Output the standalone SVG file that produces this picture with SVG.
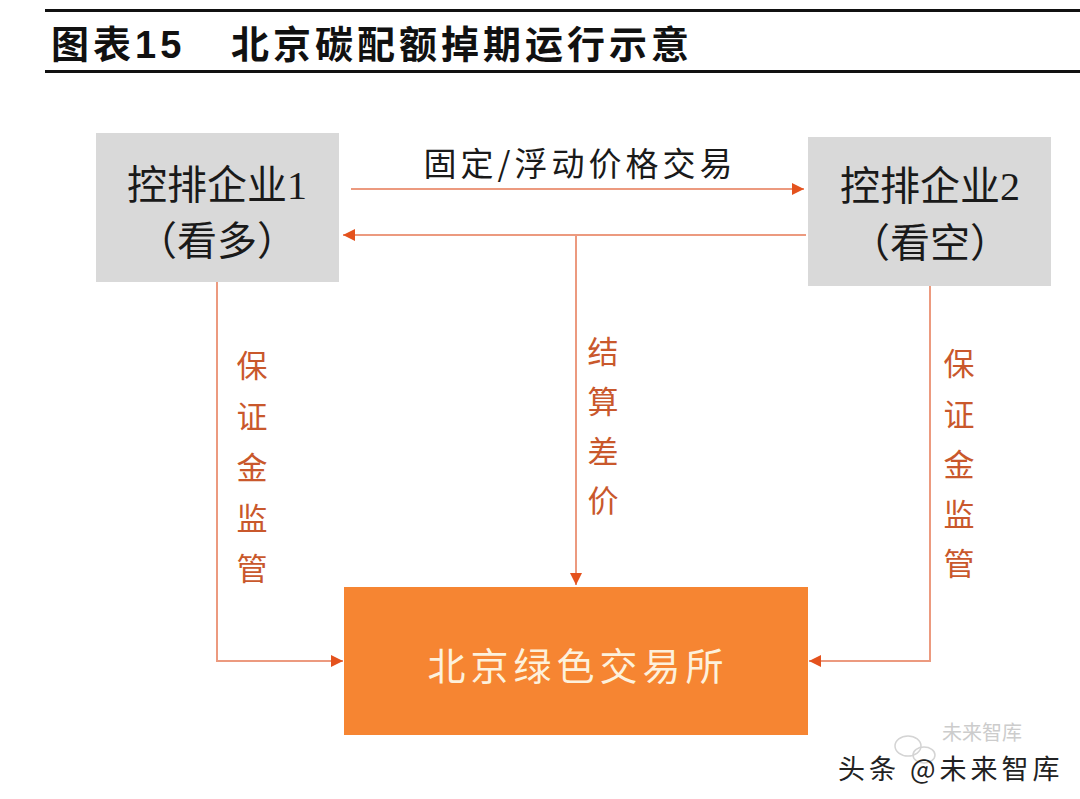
<svg xmlns="http://www.w3.org/2000/svg" width="1080" height="799" viewBox="0 0 1080 799">
<defs>
<style>
.cjk{font-family:"Noto Sans CJK SC","Liberation Sans",sans-serif;}
.title{font-family:"Liberation Sans","Noto Sans CJK SC",sans-serif;font-weight:bold;font-size:38px;fill:#111;dominant-baseline:central;}
.node-txt{font-family:"Liberation Serif","Noto Sans CJK SC",serif;font-size:40px;fill:#1a1a1a;text-anchor:middle;dominant-baseline:central;}
.vlabel{font-family:"Noto Sans CJK SC",sans-serif;font-size:31px;fill:#c9582c;text-anchor:middle;dominant-baseline:central;}
.conn{fill:none;stroke:#ec9a7f;stroke-width:2;}
</style>
<marker id="ah" viewBox="0 0 12 12" refX="12" refY="6" markerWidth="12" markerHeight="12" markerUnits="userSpaceOnUse" orient="auto">
<path d="M0,0 L12,6 L0,12 Z" fill="#e4521d"/>
</marker>
</defs>
<rect width="1080" height="799" fill="#ffffff"/>

<g id="title">
<rect x="45" y="9" width="1035" height="3" fill="#111"/>
<rect x="45" y="70" width="1035" height="3" fill="#111"/>
<text class="title" x="51" y="45" letter-spacing="4">图表15</text>
<text class="title" x="231" y="45" letter-spacing="4">北京碳配额掉期运行示意</text>
</g>

<g id="connectors">
<line class="conn" x1="351" y1="189" x2="804" y2="189" marker-end="url(#ah)"/>
<line class="conn" x1="806" y1="235" x2="343" y2="235" marker-end="url(#ah)"/>
<line class="conn" x1="576" y1="235" x2="576" y2="585" marker-end="url(#ah)"/>
<polyline class="conn" points="217,282 217,661 343,661" marker-end="url(#ah)"/>
<polyline class="conn" points="930,286 930,661 809,661" marker-end="url(#ah)"/>
<text class="cjk" x="580" y="162" font-size="33" fill="#1a1a1a" text-anchor="middle" dominant-baseline="central" letter-spacing="4">固定/浮动价格交易</text>
<g id="label-left">
<text class="vlabel" x="252" y="363">保</text>
<text class="vlabel" x="252" y="414">证</text>
<text class="vlabel" x="252" y="465">金</text>
<text class="vlabel" x="252" y="516">监</text>
<text class="vlabel" x="252" y="566">管</text>
</g>
<g id="label-mid">
<text class="vlabel" x="603" y="349">结</text>
<text class="vlabel" x="603" y="399">算</text>
<text class="vlabel" x="603" y="449">差</text>
<text class="vlabel" x="603" y="498">价</text>
</g>
<g id="label-right">
<text class="vlabel" x="959" y="361">保</text>
<text class="vlabel" x="959" y="412">证</text>
<text class="vlabel" x="959" y="462">金</text>
<text class="vlabel" x="959" y="512">监</text>
<text class="vlabel" x="959" y="561">管</text>
</g>
</g>

<g id="node-company1">
<rect x="96" y="133" width="243" height="149" fill="#d9d9d9"/>
<text class="node-txt" x="217" y="185">控排企业1</text>
<text class="node-txt" x="217" y="241">（看多）</text>
</g>

<g id="node-company2">
<rect x="808" y="137" width="243" height="149" fill="#d9d9d9"/>
<text class="node-txt" x="930" y="186">控排企业2</text>
<text class="node-txt" x="930" y="243">（看空）</text>
</g>

<g id="node-exchange">
<rect x="344" y="587" width="464" height="148" fill="#f68532"/>
<text class="cjk" x="578" y="663" font-size="38" fill="#fdf1dc" text-anchor="middle" dominant-baseline="central" letter-spacing="5">北京绿色交易所</text>
</g>

<g id="watermark">
<ellipse cx="908" cy="746" rx="13" ry="10" fill="none" stroke="#d4d4d4" stroke-width="1.5"/>
<ellipse cx="924" cy="755" rx="11" ry="8" fill="none" stroke="#d4d4d4" stroke-width="1.5"/>
<text class="cjk" x="942" y="731" font-size="20" fill="#cccccc" dominant-baseline="central">未来智库</text>
<text class="cjk" x="838" y="767" font-size="27" fill="#222" dominant-baseline="central" letter-spacing="4">头条 @未来智库</text>
</g>
</svg>
